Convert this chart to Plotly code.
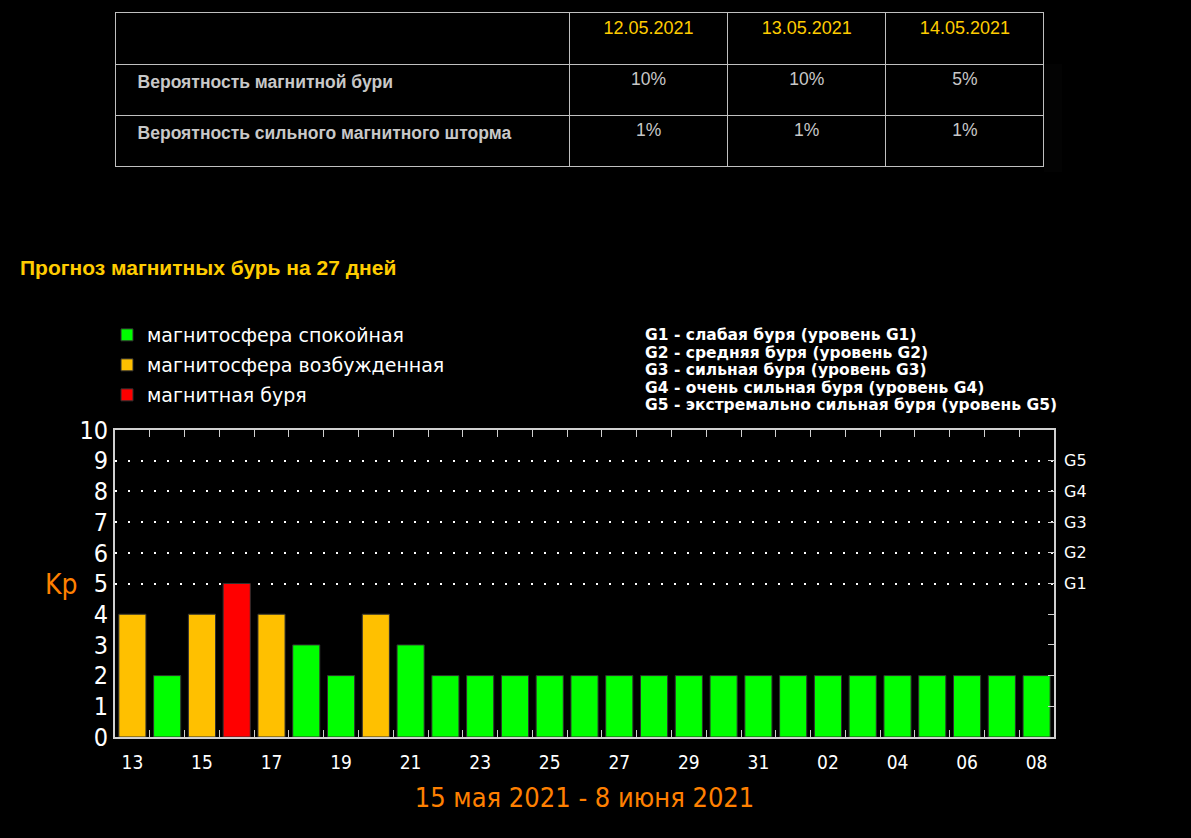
import plotly.graph_objects as go

W, H = 1191, 838

# ---- data ----
table_dates = ["12.05.2021", "13.05.2021", "14.05.2021"]
table_rows = ["Вероятность магнитной бури", "Вероятность сильного магнитного шторма"]
storm_prob = ["10%", "10%", "5%"]
strong_prob = ["1%", "1%", "1%"]

days = ["13", "14", "15", "16", "17", "18", "19", "20", "21", "22", "23", "24", "25", "26",
        "27", "28", "29", "30", "31", "01", "02", "03", "04", "05", "06", "07", "08"]
kp = [4, 2, 4, 5, 4, 3, 2, 4, 3, 2, 2, 2, 2, 2,
      2, 2, 2, 2, 2, 2, 2, 2, 2, 2, 2, 2, 2]

states = ["магнитосфера спокойная", "магнитосфера возбужденная", "магнитная буря"]
state_colors = ["#00ff00", "#ffc000", "#ff0000"]
g_levels = ["G1", "G2", "G3", "G4", "G5"]
g_desc = ["G1 - слабая буря (уровень G1)",
          "G2 - средняя буря (уровень G2)",
          "G3 - сильная буря (уровень G3)",
          "G4 - очень сильная буря (уровень G4)",
          "G5 - экстремально сильная буря (уровень G5)"]

title_text = "Прогноз магнитных бурь на 27 дней"
period_text = "15 мая 2021 - 8 июня 2021"

PIX = "DejaVu Sans Condensed, DejaVu Sans, sans-serif"
SANS = "DejaVu Sans, sans-serif"
ARIAL = "Liberation Sans, Arial, sans-serif"
ORANGE = "#ff8000"


def state_of(v):
    if v >= 5:
        return 2
    if v >= 4:
        return 1
    return 0


idx = list(range(len(days)))

fig = go.Figure()

# ---- table ----
pad = "\u00a0" * 3
fig.add_trace(go.Table(
    domain=dict(x=[115 / W, 1044 / W], y=[1 - 172 / H, 1 - 12 / H]),
    columnwidth=[454, 158, 158, 158],
    header=dict(values=[""] + table_dates,
                fill_color="black", line_color="#c0c0c0", line_width=1,
                font=dict(family=ARIAL, size=18, color="#ffcc00"),
                align="center", height=52),
    cells=dict(values=[[pad + "<b>" + r + "</b>" for r in table_rows],
                       [storm_prob[0], strong_prob[0]],
                       [storm_prob[1], strong_prob[1]],
                       [storm_prob[2], strong_prob[2]]],
               fill_color="black", line_color="#c0c0c0", line_width=1,
               font=dict(family=ARIAL, size=17.5, color="#c8c8c8"),
               align=["left", "center", "center", "center"], height=51),
))

# ---- bars (one trace per state) ----
for s, (name, col) in enumerate(zip(states, state_colors)):
    fig.add_trace(go.Bar(
        x=idx,
        y=[v if state_of(v) == s else None for v in kp],
        name=name,
        marker=dict(color=col, line=dict(color="#303030", width=1)),
        width=0.78,
        legend="legend" if s == 0 else "legend%d" % (s + 1),
        xaxis="x", yaxis="y",
        hoverinfo="x+y",
    ))

# helper empty traces so overlay axes are drawn
fig.add_trace(go.Scatter(x=[None], y=[None], xaxis="x2", yaxis="y2", showlegend=False, hoverinfo="skip"))
fig.add_trace(go.Scatter(x=[None], y=[None], xaxis="x", yaxis="y3", showlegend=False, hoverinfo="skip"))

xdom = [115 / W, 1054 / W]
ydom = [1 - 737 / H, 1 - 430 / H]
xr = [-0.5, len(days) - 0.5]
yr = [0, 10]
FRAME = "#d0d0d0"

annotations = [
    dict(text="Kp", x=62 / W, y=1 - 584 / H, xref="paper", yref="paper",
         xanchor="center", yanchor="middle",
         showarrow=False, font=dict(family=PIX, size=28, color=ORANGE)),
]
for i, line in enumerate(g_desc):
    annotations.append(dict(text="<b>" + line + "</b>", x=643 / W, y=1 - (335 + 17.5 * i) / H,
                            xref="paper", yref="paper", xanchor="left", yanchor="middle",
                            showarrow=False, font=dict(family=SANS, size=15.5, color="white")))

fig.update_layout(
    width=W, height=H,
    paper_bgcolor="black", plot_bgcolor="black",
    margin=dict(l=0, r=0, t=0, b=0, autoexpand=False),
    barmode="overlay",
    title=dict(text="<b>" + title_text + "</b>", x=20 / W, y=1 - 268 / H,
               xref="paper", yref="paper", xanchor="left", yanchor="middle",
               font=dict(family=ARIAL, size=21, color="#ffcc00")),
    xaxis=dict(domain=xdom, range=xr, tickmode="array", automargin=False,
               tickvals=idx[::2], ticktext=days[::2], ticks="",
               ticklabelstandoff=7,
               tickfont=dict(family=PIX, size=19, color="white"),
               showgrid=False, zeroline=False, showline=True, linecolor=FRAME,
               linewidth=2, mirror=True, anchor="y",
               title=dict(text=period_text, standoff=16,
                          font=dict(family=PIX, size=27, color=ORANGE))),
    xaxis2=dict(domain=xdom, range=xr, overlaying="x", anchor="y", side="bottom",
                automargin=False,
                tickmode="array", tickvals=[i + 0.5 for i in idx[:-1]],
                ticks="inside", ticklen=7, tickwidth=1, tickcolor=FRAME,
                mirror="ticks", showticklabels=False, showgrid=False, zeroline=False,
                showline=False),
    yaxis=dict(domain=ydom, range=yr, tickmode="array", tickvals=list(range(0, 11)),
               automargin=False,
               ticks="", tickfont=dict(family=PIX, size=25, color="white"),
               ticklabelstandoff=0,
               showgrid=False, zeroline=False, showline=True, linecolor=FRAME,
               linewidth=2, mirror=True, anchor="x"),
    yaxis2=dict(domain=ydom, range=yr, overlaying="y", side="right", anchor="x",
                automargin=False,
                tickmode="array", tickvals=list(range(1, 10)),
                ticktext=["", "", "", ""] + g_levels,
                ticks="inside", ticklen=6, tickwidth=1, tickcolor=FRAME,
                ticklabelstandoff=9,
                tickfont=dict(family=SANS, size=16, color="white"),
                showgrid=False, zeroline=False, showline=False),
    yaxis3=dict(domain=ydom, range=yr, overlaying="y", side="right", anchor="x",
                automargin=False,
                tickmode="array", tickvals=list(range(5, 10)), showticklabels=False,
                ticks="", showgrid=True, gridcolor="white", gridwidth=2,
                griddash="2px,11px", zeroline=False, showline=False),
    annotations=annotations,
)

leg_common = dict(xref="paper", yref="paper", xanchor="left", yanchor="middle",
                  bgcolor="rgba(0,0,0,0)", font=dict(family=SANS, size=19, color="white"),
                  itemclick=False)
fig.update_layout(
    legend=dict(x=107 / W, y=1 - 335 / H, **leg_common),
    legend2=dict(x=107 / W, y=1 - 365 / H, **leg_common),
    legend3=dict(x=107 / W, y=1 - 395 / H, **leg_common),
)

fig.write_html("out.html",
               config={"displayModeBar": False},
               post_script="document.body.style.margin='0px';"
                           "document.body.style.background='black';")
